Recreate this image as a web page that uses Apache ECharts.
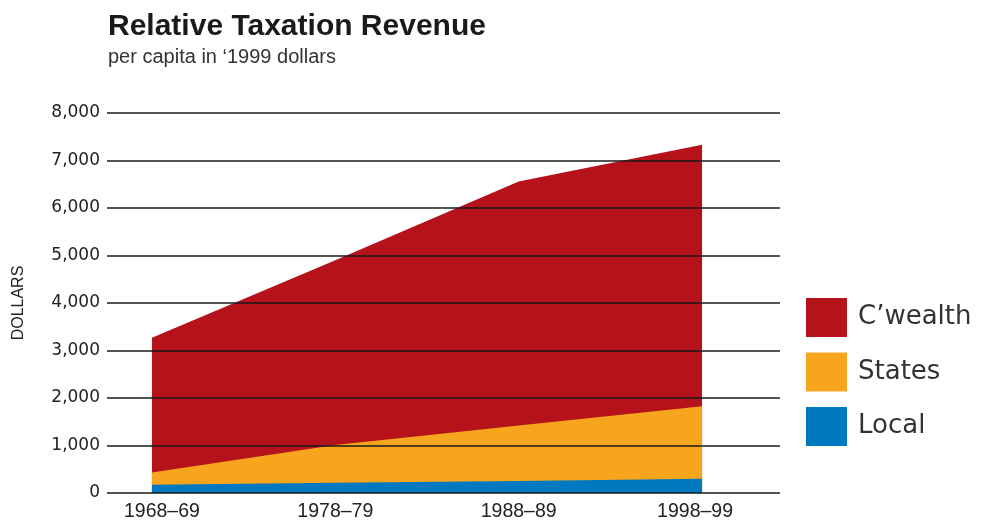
<!DOCTYPE html>
<html>
<head>
<meta charset="utf-8">
<script src="https://cdn.jsdelivr.net/npm/echarts@6/dist/echarts.min.js"></script>
<style>
  html, body { margin: 0; padding: 0; background: #fff; }
  #chart { width: 981px; height: 524px; }
</style>
</head>
<body>
<div id="chart"></div>
<script>
// years where each period starts, and the labels under them
const years = [1968, 1978, 1988, 1998]
const periodLabels = ['1968–69', '1978–79', '1988–89', '1998–99']

// per capita revenue, 1999 dollars (stacked from the bottom)
const local = [175, 215, 255, 300]
const states = [255, 795, 1165, 1525]
const cwealth = [2840, 3890, 5140, 5505]

const yTicks = [0, 1000, 2000, 3000, 4000, 5000, 6000, 7000, 8000]

// running totals, so each layer is drawn as a filled area down to 0
const localTop = local.slice()
const statesTop = states.map((v, i) => v + localTop[i])
const totalTop = cwealth.map((v, i) => v + statesTop[i])

const chart = echarts.init(document.getElementById('chart'))

function area (name, tops, color, z) {
  return {
    name: name,
    type: 'line',
    data: years.map((y, i) => [y, tops[i]]),
    symbol: 'none',
    lineStyle: { width: 0 },
    areaStyle: { color: color, opacity: 1, origin: 'start' },
    itemStyle: { color: color },
    z: z
  }
}

chart.setOption({
  animation: false,
  textStyle: { fontFamily: 'Liberation Sans, Arial, sans-serif' },
  title: {
    text: 'Relative Taxation Revenue',
    subtext: 'per capita in ‘1999 dollars',
    left: 103,
    top: 7,
    itemGap: 5,
    textStyle: { fontSize: 30, fontWeight: 'bold', color: '#1a1a1a' },
    subtextStyle: { fontSize: 20, color: '#333' }
  },
  legend: {
    orient: 'vertical',
    left: 801,
    top: 293,
    itemWidth: 41,
    itemHeight: 39,
    itemGap: 15.5,
    icon: 'rect',
    data: ['C’wealth', 'States', 'Local'],
    textStyle: { fontSize: 26, color: '#333', fontFamily: 'DejaVu Sans', padding: [0, 0, 0, 6] }
  },
  grid: { left: 107, right: 201, top: 113, bottom: 31 },
  xAxis: {
    type: 'value',
    min: 1965.55,
    max: 2002.25,
    axisLine: { show: false },
    axisTick: { show: false },
    splitLine: { show: false },
    axisLabel: {
      customValues: years,
      fontSize: 19.5,
      color: '#222',
      margin: 9,
      formatter: v => {
        const i = years.indexOf(v)
        if (i === 0) return '{first|' + periodLabels[i] + '}'
        if (i === years.length - 1) return '{last|' + periodLabels[i] + '}'
        return periodLabels[i] || ''
      },
      rich: {
        first: { fontSize: 19.5, color: '#222', padding: [0, 0, 0, 20] },
        last: { fontSize: 19.5, color: '#222', padding: [0, 14, 0, 0] }
      }
    }
  },
  yAxis: {
    type: 'value',
    min: 0,
    max: 8000,
    interval: 1000,
    z: 5,
    name: 'DOLLARS',
    nameLocation: 'middle',
    nameRotate: 90,
    nameGap: 80,
    nameTextStyle: { fontSize: 16, color: '#222' },
    axisLine: { show: false },
    axisTick: { show: false },
    splitLine: { lineStyle: { color: '#1a1a1a', width: 1.5 } },
    axisLabel: {
      fontSize: 17,
      fontFamily: 'DejaVu Sans',
      color: '#222',
      margin: 7,
      formatter: v => yTicks.includes(v) ? v.toLocaleString('en-US') : ''
    }
  },
  series: [
    area('C’wealth', totalTop, '#B5121B', 2),
    area('States', statesTop, '#F7A51C', 3),
    area('Local', localTop, '#0079C1', 4)
  ]
})
</script>
</body>
</html>
